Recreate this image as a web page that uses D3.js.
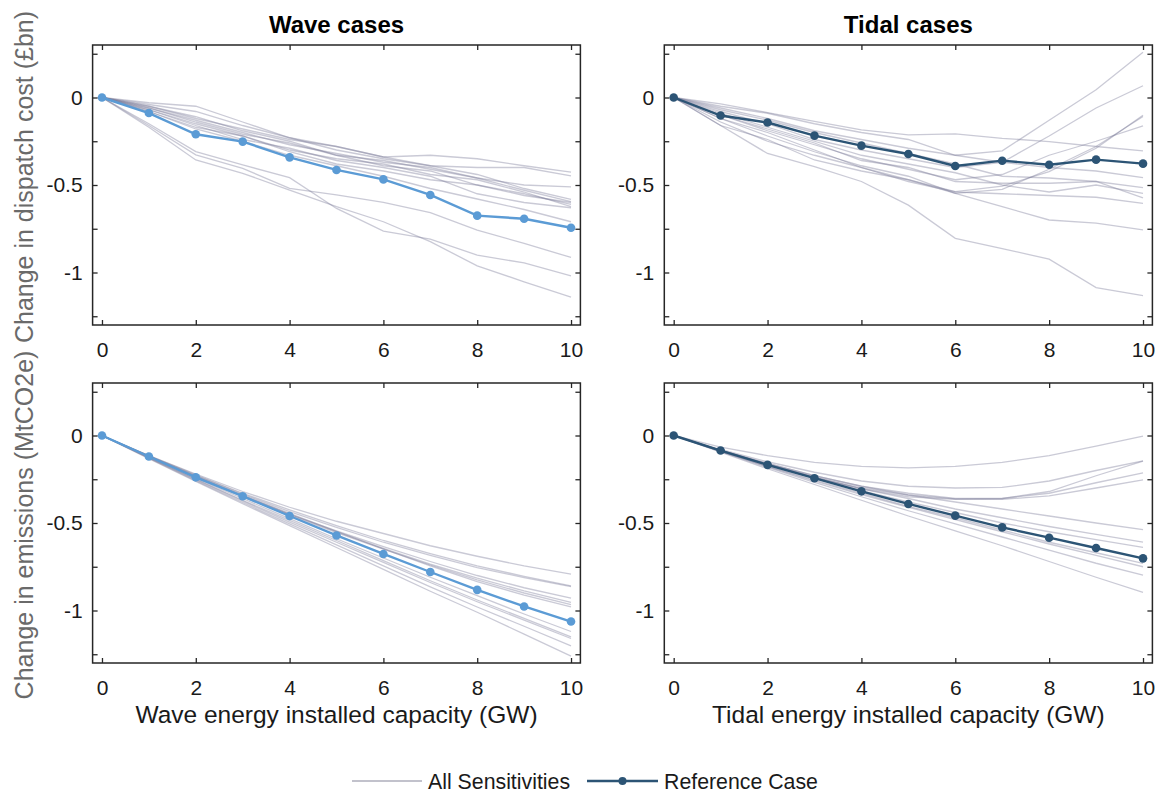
<!DOCTYPE html>
<html>
<head>
<meta charset="utf-8">
<script src="https://cdn.jsdelivr.net/npm/d3@7"></script>
<style>
  html, body { margin: 0; padding: 0; background: #fff; }
  svg { display: block; font-family: "Liberation Sans", Arial, Helvetica, sans-serif; }
</style>
</head>
<body>
<svg id="chart" width="1161" height="794"></svg>
<script>
// ---------- DATA ----------
const capacity = [0, 1, 2, 3, 4, 5, 6, 7, 8, 9, 10];
const xTicks = [0, 2, 4, 6, 8, 10];
const yTicks = [0.25, 0, -0.25, -0.5, -0.75, -1, -1.25];
const yTickLabels = { "0": "0", "-0.5": "-0.5", "-1": "-1" };

const panelTitles = ["Wave cases", "Tidal cases"];
const xAxisTitles = ["Wave energy installed capacity (GW)", "Tidal energy installed capacity (GW)"];
const yAxisTitles = ["Change in dispatch cost (£bn)", "Change in emissions (MtCO2e)"];
const legendLabels = ["All Sensitivities", "Reference Case"];

// Wave – dispatch cost
const waveCostRef = [0, -0.089, -0.21, -0.252, -0.342, -0.414, -0.468, -0.557, -0.675, -0.693, -0.744];
const waveCostSens = [
  [0, -0.03, -0.05, -0.14, -0.23, -0.28, -0.34, -0.33, -0.35, -0.39, -0.427],
  [0, -0.04, -0.08, -0.16, -0.23, -0.30, -0.35, -0.39, -0.40, -0.40, -0.448],
  [0, -0.05, -0.11, -0.19, -0.25, -0.33, -0.36, -0.41, -0.46, -0.50, -0.511],
  [0, -0.05, -0.12, -0.18, -0.24, -0.28, -0.34, -0.39, -0.44, -0.52, -0.582],
  [0, -0.06, -0.13, -0.20, -0.27, -0.32, -0.37, -0.40, -0.46, -0.53, -0.595],
  [0, -0.06, -0.14, -0.21, -0.26, -0.33, -0.39, -0.42, -0.50, -0.55, -0.611],
  [0, -0.07, -0.15, -0.22, -0.30, -0.35, -0.38, -0.44, -0.47, -0.54, -0.624],
  [0, -0.07, -0.16, -0.24, -0.29, -0.36, -0.40, -0.45, -0.55, -0.60, -0.63],
  [0, -0.08, -0.17, -0.22, -0.31, -0.38, -0.42, -0.47, -0.50, -0.56, -0.60],
  [0, -0.08, -0.18, -0.25, -0.33, -0.39, -0.45, -0.52, -0.58, -0.64, -0.71],
  [0, -0.15, -0.309, -0.385, -0.458, -0.634, -0.763, -0.809, -0.901, -0.945, -1.019],
  [0, -0.17, -0.357, -0.433, -0.529, -0.624, -0.71, -0.824, -0.962, -1.053, -1.141],
  [0, -0.16, -0.328, -0.405, -0.519, -0.557, -0.599, -0.658, -0.758, -0.834, -0.914]
];

// Tidal – dispatch cost
const tidalCostRef = [0, -0.103, -0.143, -0.218, -0.275, -0.323, -0.391, -0.361, -0.384, -0.355, -0.378];
const tidalCostSens = [
  [0, -0.16, -0.32, -0.395, -0.48, -0.615, -0.805, -0.863, -0.924, -1.086, -1.132],
  [0, -0.16, -0.24, -0.357, -0.42, -0.47, -0.548, -0.624, -0.70, -0.718, -0.756],
  [0, -0.06, -0.12, -0.19, -0.24, -0.29, -0.33, -0.305, -0.13, 0.044, 0.258],
  [0, -0.08, -0.15, -0.24, -0.30, -0.35, -0.40, -0.37, -0.22, -0.06, 0.067],
  [0, -0.14, -0.25, -0.33, -0.40, -0.47, -0.538, -0.506, -0.424, -0.29, -0.101],
  [0, -0.12, -0.22, -0.31, -0.39, -0.45, -0.548, -0.525, -0.41, -0.28, -0.109],
  [0, -0.10, -0.19, -0.27, -0.35, -0.41, -0.47, -0.44, -0.33, -0.25, -0.162],
  [0, -0.036, -0.086, -0.137, -0.185, -0.214, -0.208, -0.233, -0.252, -0.28, -0.305],
  [0, -0.05, -0.09, -0.15, -0.20, -0.24, -0.33, -0.37, -0.40, -0.42, -0.458],
  [0, -0.07, -0.13, -0.20, -0.26, -0.32, -0.38, -0.45, -0.46, -0.48, -0.515],
  [0, -0.09, -0.17, -0.25, -0.33, -0.38, -0.43, -0.50, -0.54, -0.50, -0.548],
  [0, -0.10, -0.18, -0.26, -0.36, -0.40, -0.48, -0.49, -0.49, -0.48, -0.573],
  [0, -0.12, -0.20, -0.30, -0.40, -0.48, -0.54, -0.55, -0.56, -0.57, -0.605]
];

// Wave – emissions
const waveEmisRef = [0, -0.12, -0.239, -0.347, -0.46, -0.571, -0.677, -0.78, -0.882, -0.977, -1.063];
const waveEmisSens = [
  [0, -0.115, -0.22, -0.32, -0.41, -0.49, -0.56, -0.63, -0.69, -0.745, -0.792],
  [0, -0.115, -0.225, -0.33, -0.425, -0.515, -0.60, -0.675, -0.745, -0.805, -0.859],
  [0, -0.118, -0.228, -0.335, -0.435, -0.525, -0.61, -0.685, -0.755, -0.812, -0.864],
  [0, -0.12, -0.235, -0.345, -0.45, -0.545, -0.635, -0.72, -0.80, -0.87, -0.929],
  [0, -0.12, -0.235, -0.345, -0.45, -0.55, -0.645, -0.735, -0.815, -0.888, -0.954],
  [0, -0.12, -0.24, -0.35, -0.455, -0.555, -0.65, -0.74, -0.825, -0.90, -0.967],
  [0, -0.118, -0.232, -0.34, -0.445, -0.548, -0.648, -0.745, -0.835, -0.912, -0.979],
  [0, -0.125, -0.245, -0.36, -0.475, -0.59, -0.70, -0.81, -0.915, -1.02, -1.12],
  [0, -0.125, -0.25, -0.37, -0.485, -0.60, -0.715, -0.83, -0.94, -1.045, -1.151],
  [0, -0.128, -0.252, -0.375, -0.495, -0.61, -0.725, -0.84, -0.95, -1.055, -1.16],
  [0, -0.13, -0.258, -0.383, -0.505, -0.625, -0.745, -0.865, -0.98, -1.09, -1.202],
  [0, -0.132, -0.262, -0.39, -0.515, -0.64, -0.765, -0.89, -1.01, -1.135, -1.261]
];

// Tidal – emissions
const tidalEmisRef = [0, -0.086, -0.168, -0.244, -0.319, -0.391, -0.458, -0.525, -0.584, -0.643, -0.702];
const tidalEmisSens = [
  [0, -0.067, -0.115, -0.153, -0.177, -0.185, -0.177, -0.153, -0.115, -0.061, -0.004],
  [0, -0.08, -0.15, -0.21, -0.26, -0.29, -0.30, -0.297, -0.26, -0.20, -0.145],
  [0, -0.085, -0.16, -0.23, -0.29, -0.33, -0.36, -0.36, -0.32, -0.23, -0.147],
  [0, -0.085, -0.165, -0.24, -0.30, -0.34, -0.362, -0.36, -0.33, -0.27, -0.214],
  [0, -0.085, -0.165, -0.24, -0.305, -0.35, -0.365, -0.365, -0.345, -0.30, -0.254],
  [0, -0.085, -0.16, -0.23, -0.29, -0.34, -0.38, -0.42, -0.46, -0.50, -0.538],
  [0, -0.086, -0.165, -0.24, -0.305, -0.36, -0.42, -0.47, -0.52, -0.565, -0.609],
  [0, -0.087, -0.168, -0.245, -0.315, -0.38, -0.44, -0.50, -0.55, -0.595, -0.639],
  [0, -0.09, -0.175, -0.255, -0.33, -0.405, -0.47, -0.54, -0.61, -0.67, -0.731],
  [0, -0.09, -0.178, -0.26, -0.338, -0.41, -0.48, -0.55, -0.62, -0.685, -0.75],
  [0, -0.092, -0.182, -0.268, -0.35, -0.43, -0.505, -0.58, -0.655, -0.73, -0.798],
  [0, -0.095, -0.19, -0.28, -0.37, -0.46, -0.545, -0.63, -0.72, -0.81, -0.897]
];

// ---------- LAYOUT ----------
const svg = d3.select("#chart");
const colors = { wave: "#5b9bd5", tidal: "#2c5475", sens: "#7b7b98", axis: "#262626" };
const colX = [[92.6, 580.4], [664.3, 1152.4]];
const rowY = [[325, 45], [663, 383]];
const xDomain = [-0.2, 10.2];
const yDomain = [-1.3, 0.3];

const panels = [
  { col: 0, row: 0, ref: waveCostRef, sens: waveCostSens, color: colors.wave },
  { col: 1, row: 0, ref: tidalCostRef, sens: tidalCostSens, color: colors.tidal },
  { col: 0, row: 1, ref: waveEmisRef, sens: waveEmisSens, color: colors.wave },
  { col: 1, row: 1, ref: tidalEmisRef, sens: tidalEmisSens, color: colors.tidal }
];

panels.forEach(p => {
  const x = d3.scaleLinear().domain(xDomain).range(colX[p.col]);
  const y = d3.scaleLinear().domain(yDomain).range(rowY[p.row]);
  const g = svg.append("g");
  const [x0, x1] = colX[p.col];
  const [yb, yt] = rowY[p.row];

  const line = d3.line().x((d, i) => x(capacity[i])).y(d => y(d));

  g.append("g").selectAll("path").data(p.sens).join("path")
    .attr("d", line).attr("fill", "none")
    .attr("stroke", colors.sens).attr("stroke-opacity", 0.4).attr("stroke-width", 1.3);

  g.append("path").datum(p.ref).attr("d", line)
    .attr("fill", "none").attr("stroke", p.color).attr("stroke-width", 2.4);
  g.append("g").selectAll("circle").data(p.ref).join("circle")
    .attr("cx", (d, i) => x(capacity[i])).attr("cy", d => y(d)).attr("r", 4.3)
    .attr("fill", p.color);

  // axes
  const fmtY = d => yTickLabels[String(d)] !== undefined ? yTickLabels[String(d)] : "";
  const axL = g.append("g").attr("transform", `translate(${x0},0)`)
    .call(d3.axisLeft(y).tickValues(yTicks).tickSize(-5).tickSizeOuter(0).tickPadding(10).tickFormat(fmtY));
  const axR = g.append("g").attr("transform", `translate(${x1},0)`)
    .call(d3.axisRight(y).tickValues(yTicks).tickSize(-5).tickSizeOuter(0).tickFormat(""));
  const axT = g.append("g").attr("transform", `translate(0,${yt})`)
    .call(d3.axisTop(x).tickValues(xTicks).tickSize(-5).tickSizeOuter(0).tickFormat(""));
  const axB = g.append("g").attr("transform", `translate(0,${yb})`)
    .call(d3.axisBottom(x).tickValues(xTicks).tickSize(-5).tickSizeOuter(0).tickPadding(17).tickFormat(d3.format("d")));
  [axL, axR, axT, axB].forEach(a => {
    a.select(".domain").remove();
    a.selectAll(".tick line").attr("stroke", colors.axis).attr("stroke-width", 1.3);
    a.selectAll("text").attr("font-size", 21).attr("fill", "#1a1a1a")
      .attr("font-family", '"Liberation Sans", Arial, sans-serif');
  });
  g.append("rect").attr("x", x0).attr("y", yt).attr("width", x1 - x0).attr("height", yb - yt)
    .attr("fill", "none").attr("stroke", colors.axis).attr("stroke-width", 1.5);
});

// titles
panelTitles.forEach((t, i) => {
  svg.append("text").attr("x", (colX[i][0] + colX[i][1]) / 2).attr("y", 33)
    .attr("text-anchor", "middle").attr("font-size", 24).attr("font-weight", "bold")
    .attr("fill", "#000").text(t);
});
xAxisTitles.forEach((t, i) => {
  svg.append("text").attr("x", (colX[i][0] + colX[i][1]) / 2).attr("y", 723)
    .attr("text-anchor", "middle").attr("font-size", 24.5)
    .attr("fill", "#1a1a1a").text(t);
});
const yCenters = [177, 525];
yAxisTitles.forEach((t, i) => {
  svg.append("text").attr("transform", `translate(33,${yCenters[i]}) rotate(-90)`)
    .attr("text-anchor", "middle").attr("font-size", 25)
    .attr("fill", "#6a6a6a").text(t);
});

// legend
const lg = svg.append("g");
const ly = 781;
lg.append("line").attr("x1", 352).attr("x2", 422).attr("y1", ly).attr("y2", ly)
  .attr("stroke", "#c2c2cc").attr("stroke-width", 2);
lg.append("text").attr("x", 428).attr("y", ly + 8).attr("font-size", 21.3).attr("fill", "#1a1a1a").text(legendLabels[0]);
lg.append("line").attr("x1", 587).attr("x2", 658).attr("y1", ly).attr("y2", ly)
  .attr("stroke", colors.tidal).attr("stroke-width", 2.4);
lg.append("circle").attr("cx", 622.5).attr("cy", ly).attr("r", 4).attr("fill", colors.tidal);
lg.append("text").attr("x", 664).attr("y", ly + 8).attr("font-size", 21.3).attr("fill", "#1a1a1a").text(legendLabels[1]);
</script>
</body>
</html>
